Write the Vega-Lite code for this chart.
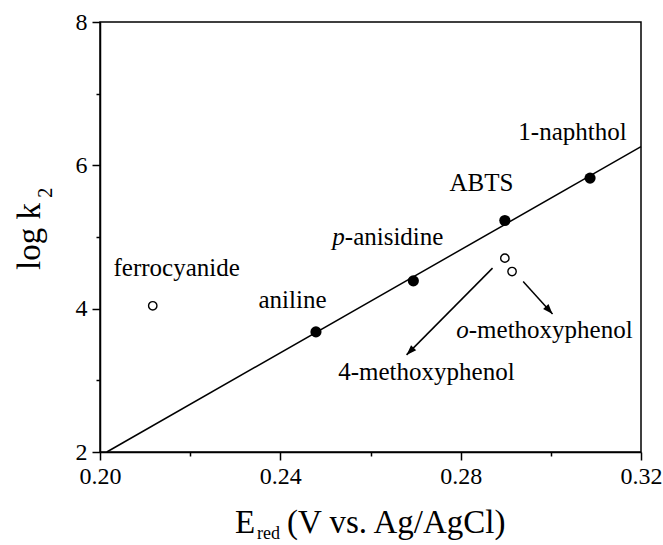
{
  "$schema": "https://vega.github.io/schema/vega-lite/v6.json",
  "width": 541,
  "height": 430,
  "autosize": {"type": "none"},
  "padding": {"left": 100, "top": 22, "right": 22, "bottom": 93},
  "background": "white",
  "config": {
    "view": {"stroke": "black", "strokeWidth": 1.5},
    "font": "Liberation Serif",
    "axis": {
      "grid": false,
      "domainColor": "black",
      "domainWidth": 1.5,
      "tickColor": "black",
      "tickWidth": 1.5,
      "labelColor": "black",
      "labelFont": "Liberation Serif",
      "labelFontSize": 24,
      "title": null
    }
  },
  "datasets": {
    "points": [
      {"compound": "ferrocyanide", "E": 0.2117, "logk": 4.04, "type": "open"},
      {"compound": "aniline", "E": 0.2479, "logk": 3.676, "type": "filled"},
      {"compound": "p-anisidine", "E": 0.2695, "logk": 4.388, "type": "filled"},
      {"compound": "ABTS", "E": 0.2898, "logk": 5.23, "type": "filled"},
      {"compound": "1-naphthol", "E": 0.3087, "logk": 5.822, "type": "filled"},
      {"compound": "4-methoxyphenol", "E": 0.2898, "logk": 4.705, "type": "open"},
      {"compound": "o-methoxyphenol", "E": 0.2914, "logk": 4.518, "type": "open"}
    ],
    "fit": [
      {"E": 0.2015, "logk": 2.0},
      {"E": 0.32, "logk": 6.26}
    ],
    "labels": [
      {"text": "ferrocyanide", "E": 0.2170, "logk": 4.458, "kind": "plain"},
      {"text": "aniline", "E": 0.2427, "logk": 4.011, "kind": "plain"},
      {"text": "p", "E": 0.2543, "logk": 4.891, "kind": "prefix"},
      {"text": "-anisidine", "E": 0.2543, "logk": 4.891, "kind": "suffix"},
      {"text": "ABTS", "E": 0.2846, "logk": 5.635, "kind": "plain"},
      {"text": "1-naphthol", "E": 0.3048, "logk": 6.358, "kind": "plain"},
      {"text": "o", "E": 0.2818, "logk": 3.588, "kind": "prefix"},
      {"text": "-methoxyphenol", "E": 0.2818, "logk": 3.588, "kind": "suffix"},
      {"text": "4-methoxyphenol", "E": 0.2724, "logk": 3.006, "kind": "plain"}
    ],
    "arrows": [
      {"name": "4-methoxyphenol", "E": 0.28707, "logk": 4.566, "E2": 0.2680, "logk2": 3.355},
      {"name": "o-methoxyphenol", "E": 0.29386, "logk": 4.378, "E2": 0.30038, "logk2": 3.927}
    ],
    "anchor": [{}]
  },
  "encoding": {
    "x": {
      "type": "quantitative",
      "scale": {"domain": [0.2, 0.32], "nice": false, "zero": false},
      "axis": {
        "values": [0.2, 0.22, 0.24, 0.26, 0.28, 0.3, 0.32],
        "labelExpr": "round(datum.value*100) % 4 == 0 ? format(datum.value, '.2f') : ''",
        "tickSize": {"condition": {"test": "round(datum.value*100) % 4 == 0", "value": 8}, "value": 4},
        "labelPadding": 4,
        "labelFlush": false,
        "labelOverlap": false
      }
    },
    "y": {
      "type": "quantitative",
      "scale": {"domain": [2, 8], "nice": false, "zero": false},
      "axis": {
        "values": [2, 3, 4, 5, 6, 7, 8],
        "labelExpr": "datum.value % 2 == 0 ? datum.label : ''",
        "tickSize": {"condition": {"test": "datum.value % 2 == 0", "value": 8}, "value": 4},
        "labelPadding": 5,
        "labelFlush": false,
        "labelOverlap": false
      }
    }
  },
  "layer": [
    {
      "data": {"name": "fit"},
      "mark": {"type": "line", "color": "black", "strokeWidth": 1.5},
      "encoding": {"x": {"field": "E", "type": "quantitative"}, "y": {"field": "logk", "type": "quantitative"}}
    },
    {
      "data": {"name": "arrows"},
      "mark": {"type": "rule", "color": "black", "strokeWidth": 1.5},
      "encoding": {
        "x": {"field": "E", "type": "quantitative"},
        "y": {"field": "logk", "type": "quantitative"},
        "x2": {"field": "E2"},
        "y2": {"field": "logk2"}
      }
    },
    {
      "data": {"name": "arrows"},
      "transform": [{"filter": "datum.name == '4-methoxyphenol'"}],
      "mark": {"type": "point", "shape": "M0,0L-0.36,1L0.36,1Z", "filled": true, "color": "black", "size": 400, "angle": 224.8, "opacity": 1},
      "encoding": {"x": {"field": "E2", "type": "quantitative"}, "y": {"field": "logk2", "type": "quantitative"}}
    },
    {
      "data": {"name": "arrows"},
      "transform": [{"filter": "datum.name == 'o-methoxyphenol'"}],
      "mark": {"type": "point", "shape": "M0,0L-0.36,1L0.36,1Z", "filled": true, "color": "black", "size": 400, "angle": 137.7, "opacity": 1},
      "encoding": {"x": {"field": "E2", "type": "quantitative"}, "y": {"field": "logk2", "type": "quantitative"}}
    },
    {
      "data": {"name": "points"},
      "transform": [{"filter": "datum.type == 'filled'"}],
      "mark": {"type": "point", "shape": "circle", "filled": true, "color": "black", "size": 125, "opacity": 1},
      "encoding": {"x": {"field": "E", "type": "quantitative"}, "y": {"field": "logk", "type": "quantitative"}}
    },
    {
      "data": {"name": "points"},
      "transform": [{"filter": "datum.type == 'open'"}],
      "mark": {"type": "point", "shape": "circle", "filled": false, "fill": "white", "stroke": "black", "strokeWidth": 1.4, "size": 70, "opacity": 1},
      "encoding": {"x": {"field": "E", "type": "quantitative"}, "y": {"field": "logk", "type": "quantitative"}}
    },
    {
      "data": {"name": "labels"},
      "transform": [{"filter": "datum.kind == 'plain'"}],
      "mark": {"type": "text", "font": "Liberation Serif", "fontSize": 25, "color": "black", "align": "center", "baseline": "alphabetic"},
      "encoding": {"x": {"field": "E", "type": "quantitative"}, "y": {"field": "logk", "type": "quantitative"}, "text": {"field": "text"}}
    },
    {
      "data": {"name": "labels"},
      "transform": [{"filter": "datum.kind == 'prefix'"}],
      "mark": {"type": "text", "font": "Liberation Serif", "fontSize": 25, "fontStyle": "italic", "color": "black", "align": "right", "baseline": "alphabetic"},
      "encoding": {"x": {"field": "E", "type": "quantitative"}, "y": {"field": "logk", "type": "quantitative"}, "text": {"field": "text"}}
    },
    {
      "data": {"name": "labels"},
      "transform": [{"filter": "datum.kind == 'suffix'"}],
      "mark": {"type": "text", "font": "Liberation Serif", "fontSize": 25, "color": "black", "align": "left", "baseline": "alphabetic"},
      "encoding": {"x": {"field": "E", "type": "quantitative"}, "y": {"field": "logk", "type": "quantitative"}, "text": {"field": "text"}}
    },
    {
      "data": {"name": "anchor"},
      "mark": {"type": "text", "text": "E", "font": "Liberation Serif", "fontSize": 33, "color": "black", "align": "left", "baseline": "alphabetic", "dy": 81},
      "encoding": {"x": {"datum": 0.22993}, "y": {"datum": 2}}
    },
    {
      "data": {"name": "anchor"},
      "mark": {"type": "text", "text": "red", "font": "Liberation Serif", "fontSize": 18, "color": "black", "align": "left", "baseline": "alphabetic", "dy": 87},
      "encoding": {"x": {"datum": 0.23482}, "y": {"datum": 2}}
    },
    {
      "data": {"name": "anchor"},
      "mark": {"type": "text", "text": "(V vs. Ag/AgCl)", "font": "Liberation Serif", "fontSize": 33, "color": "black", "align": "left", "baseline": "alphabetic", "dy": 81},
      "encoding": {"x": {"datum": 0.24146}, "y": {"datum": 2}}
    },
    {
      "data": {"name": "anchor"},
      "mark": {"type": "text", "text": "log k", "font": "Liberation Serif", "fontSize": 33, "color": "black", "align": "left", "baseline": "alphabetic", "angle": 270, "dy": -60},
      "encoding": {"x": {"datum": 0.2}, "y": {"datum": 4.54}}
    },
    {
      "data": {"name": "anchor"},
      "mark": {"type": "text", "text": "2", "font": "Liberation Serif", "fontSize": 20, "color": "black", "align": "left", "baseline": "alphabetic", "angle": 270, "dy": -48},
      "encoding": {"x": {"datum": 0.2}, "y": {"datum": 5.547}}
    }
  ]
}
